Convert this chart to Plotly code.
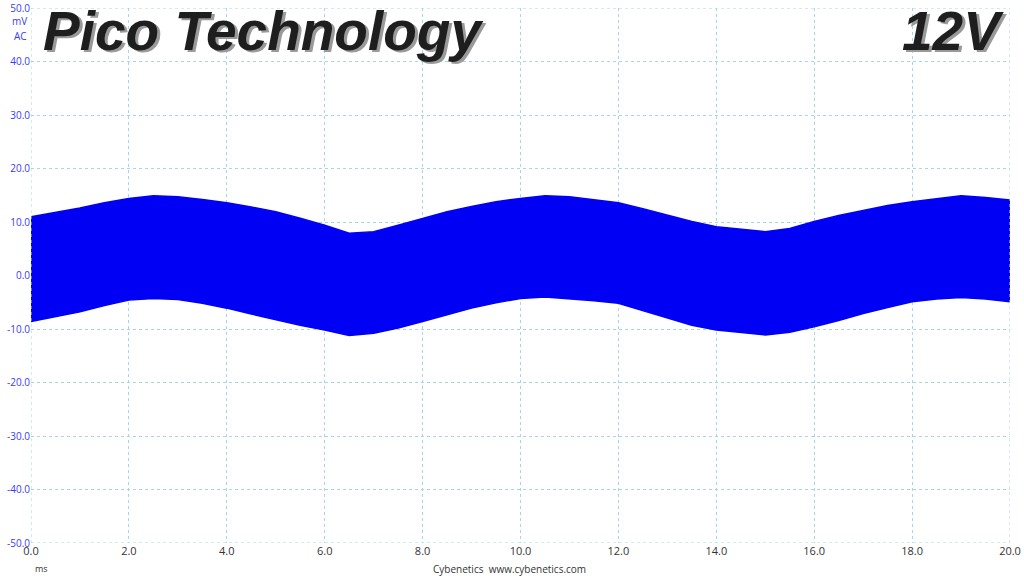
import plotly.graph_objects as go

# time (ms) and envelope of the ripple band (mV)
time_ms = [0.0, 0.5, 1.0, 1.5, 2.0, 2.5, 3.0, 3.5, 4.0, 4.5, 5.0, 5.5, 6.0, 6.5, 7.0,
           7.5, 8.0, 8.5, 9.0, 9.5, 10.0, 10.5, 11.0, 11.5, 12.0, 12.5, 13.0, 13.5,
           14.0, 14.5, 15.0, 15.5, 16.0, 16.5, 17.0, 17.5, 18.0, 18.5, 19.0, 19.5, 20.0]
upper_mv = [11.0, 11.8, 12.6, 13.6, 14.4, 14.9, 14.7, 14.2, 13.6, 12.8, 11.9, 10.7, 9.4,
            7.9, 8.2, 9.4, 10.7, 11.9, 12.9, 13.8, 14.4, 14.9, 14.7, 14.2, 13.6, 12.5,
            11.3, 10.1, 9.1, 8.6, 8.2, 8.8, 10.1, 11.2, 12.2, 13.1, 13.8, 14.4, 14.9,
            14.6, 14.1]
lower_mv = [-8.6, -7.7, -6.8, -5.6, -4.6, -4.3, -4.5, -5.2, -6.1, -7.2, -8.3, -9.3, -10.2,
            -11.2, -10.8, -9.8, -8.6, -7.3, -6.1, -5.1, -4.3, -4.0, -4.3, -4.7, -5.2,
            -6.6, -8.0, -9.3, -10.2, -10.7, -11.1, -10.6, -9.6, -8.4, -7.1, -6.0, -4.9,
            -4.4, -4.1, -4.4, -4.9]

y_tick_vals = [50, 40, 30, 20, 10, 0, -10, -20, -30, -40, -50]
y_tick_text = ["50.0", "40.0", "30.0", "20.0", "10.0", "0.0", "-10.0", "-20.0", "-30.0", "-40.0", "-50.0"]
x_tick_vals = [0, 2, 4, 6, 8, 10, 12, 14, 16, 18, 20]
x_tick_text = ["0.0", "2.0", "4.0", "6.0", "8.0", "10.0", "12.0", "14.0", "16.0", "18.0", "20.0"]

BLUE = "#0000f5"
GRID = "#a9d6df"
FONT = "Open Sans"

fig = go.Figure()
fig.add_trace(go.Scatter(x=time_ms, y=upper_mv, mode="lines",
                         line=dict(color=BLUE, width=1.5), showlegend=False, hoverinfo="skip"))
fig.add_trace(go.Scatter(x=time_ms, y=lower_mv, mode="lines", fill="tonexty",
                         fillcolor=BLUE, line=dict(color=BLUE, width=1.5),
                         showlegend=False, hoverinfo="skip"))

fig.update_layout(
    width=1024, height=576,
    margin=dict(l=31, r=14, t=8, b=33, autoexpand=False),
    paper_bgcolor="white", plot_bgcolor="white",
    font=dict(family=FONT, size=10),
    xaxis=dict(range=[0, 20], tickvals=x_tick_vals, ticktext=x_tick_text,
               showgrid=True, gridcolor=GRID, griddash="dot", gridwidth=1,
               zeroline=False, showline=False, ticks="", automargin=False,
               tickfont=dict(color="#333333", size=11, family=FONT)),
    yaxis=dict(range=[-50, 50], tickvals=y_tick_vals, ticktext=y_tick_text,
               showgrid=True, gridcolor=GRID, griddash="dot", gridwidth=1,
               zeroline=False, showline=False, ticks="", automargin=False,
               tickfont=dict(color="#3a3aee", size=10, family=FONT)),
)

# border gridlines at the extremes
for xv in [0, 20]:
    fig.add_shape(type="line", xref="x", yref="paper", x0=xv, x1=xv, y0=0, y1=1,
                  line=dict(color=GRID, width=1, dash="dot"))
for yv in [-50, 50]:
    fig.add_shape(type="line", xref="paper", yref="y", x0=0, x1=1, y0=yv, y1=yv,
                  line=dict(color=GRID, width=1, dash="dot"))

# unit labels
fig.add_annotation(text="mV", xref="paper", yref="paper", x=-0.002, y=0.975,
                   xanchor="right", yanchor="middle", showarrow=False,
                   font=dict(color="#3a3aee", size=10, family=FONT))
fig.add_annotation(text="AC", xref="paper", yref="paper", x=-0.002, y=0.947,
                   xanchor="right", yanchor="middle", showarrow=False,
                   font=dict(color="#3a3aee", size=10, family=FONT))
fig.add_annotation(text="ms", xref="paper", yref="paper", x=0.002, y=-0.047,
                   xanchor="left", yanchor="middle", showarrow=False,
                   font=dict(color="#333333", size=9, family=FONT))
fig.add_annotation(text="Cybenetics&nbsp;&nbsp;www.cybenetics.com", xref="paper", yref="paper",
                   x=0.489, y=-0.048, xanchor="center", yanchor="middle", showarrow=False,
                   font=dict(color="#333333", size=10, family=FONT))

# titles with a shadow effect
TFONT = "Liberation Sans"
for dx, dy, col in [(3, -2, "#9a9a9a"), (0, 0, "#1e1e1e")]:
    fig.add_annotation(text="<b><i>Pico Technology</i></b>", xref="paper", yref="paper",
                       x=0.010, y=1.0, xanchor="left", yanchor="top", xshift=dx, yshift=10 + dy,
                       showarrow=False, font=dict(color=col, size=55, family=TFONT))
    fig.add_annotation(text="<b><i>12V</i></b>", xref="paper", yref="paper",
                       x=0.996, y=1.0, xanchor="right", yanchor="top", xshift=dx, yshift=10 + dy,
                       showarrow=False, font=dict(color=col, size=55, family=TFONT))

fig.write_html("out.html", config={"displayModeBar": False},
               post_script="document.body.style.margin='0';")
